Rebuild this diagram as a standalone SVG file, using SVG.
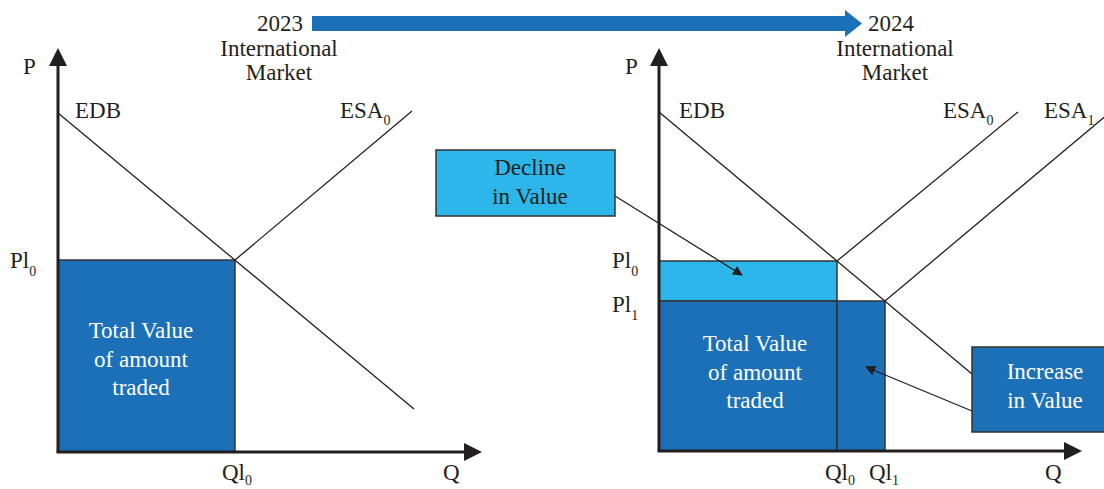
<svg xmlns="http://www.w3.org/2000/svg" width="1104" height="489" viewBox="0 0 1104 489">
<defs>
<style>
text{font-family:'Liberation Serif','DejaVu Serif',serif;font-size:23px;fill:#231f20}
.sub{font-size:14px}
.w{fill:#ffffff}
.c{text-anchor:middle}
.ln{stroke:#231f20;stroke-width:1.3;fill:none}
.ax{stroke:#231f20;stroke-width:3;fill:none}
.dk{fill:#1b70b8;stroke:#333;stroke-width:1.5}
.lt{fill:#2cb6ea;stroke:#333;stroke-width:1.5}
</style>
<marker id="ah" markerWidth="10" markerHeight="10" refX="9" refY="5" orient="auto" markerUnits="userSpaceOnUse">
<path d="M0,0 L10,5 L0,10 Z" fill="#231f20"/>
</marker>
</defs>
<rect width="1104" height="489" fill="#ffffff"/>

<g id="timeline">
<polygon points="312,16 845,16 845,10 862,23.5 845,37 845,31 312,31" fill="#1b70b8"/>
<text x="303" y="31" text-anchor="end">2023</text>
<text x="279" y="56" class="c">International</text>
<text x="279" y="80" class="c">Market</text>
<text x="868" y="31">2024</text>
<text x="895" y="56" class="c">International</text>
<text x="895" y="80" class="c">Market</text>
</g>

<g id="left-chart">
<rect id="left-value" class="dk" x="58" y="260" width="177" height="192"/>
<text x="141" y="338" class="c w">Total Value</text>
<text x="141" y="367" class="c w">of amount</text>
<text x="141" y="395" class="c w">traded</text>
<line class="ln" x1="58" y1="113" x2="414" y2="409"/>
<line class="ln" x1="235" y1="260" x2="412" y2="111"/>
<line class="ax" x1="58" y1="452" x2="58" y2="60"/>
<polygon points="58,48 49,66 67,66" fill="#231f20"/>
<line class="ax" x1="56.5" y1="452" x2="468" y2="452"/>
<polygon points="482,452 464,443 464,461" fill="#231f20"/>
<text x="23" y="74">P</text>
<text x="75" y="118">EDB</text>
<text x="340" y="118">ESA<tspan class="sub" dy="7">0</tspan></text>
<text x="10" y="268">Pl<tspan class="sub" dy="8">0</tspan></text>
<text x="222" y="480">Ql<tspan class="sub" dy="5">0</tspan></text>
<text x="443" y="480">Q</text>
</g>

<g id="right-chart">
<rect id="decline-area" class="lt" x="659" y="261" width="178" height="40"/>
<rect id="total-area" class="dk" x="659" y="301" width="178" height="150"/>
<rect id="increase-area" class="dk" x="837" y="301" width="48" height="150"/>
<text x="755" y="351" class="c w">Total Value</text>
<text x="755" y="380" class="c w">of amount</text>
<text x="755" y="408" class="c w">traded</text>
<line class="ln" x1="659" y1="112" x2="972" y2="374"/>
<line class="ln" x1="837" y1="261" x2="1018" y2="112"/>
<line class="ln" x1="885" y1="301" x2="1108" y2="114"/>
<line class="ax" x1="659" y1="451" x2="659" y2="60"/>
<polygon points="659,48 650,66 668,66" fill="#231f20"/>
<line class="ax" x1="657.5" y1="451" x2="1068" y2="451"/>
<polygon points="1082,451 1064,442 1064,460" fill="#231f20"/>
<text x="625" y="74">P</text>
<text x="679" y="118">EDB</text>
<text x="943" y="118">ESA<tspan class="sub" dy="7">0</tspan></text>
<text x="1044" y="118">ESA<tspan class="sub" dy="7">1</tspan></text>
<text x="612" y="268">Pl<tspan class="sub" dy="8">0</tspan></text>
<text x="612" y="312">Pl<tspan class="sub" dy="8">1</tspan></text>
<text x="825" y="480">Ql<tspan class="sub" dy="5">0</tspan></text>
<text x="869" y="480">Ql<tspan class="sub" dy="5">1</tspan></text>
<text x="1045" y="480">Q</text>
</g>

<g id="decline-box">
<rect class="lt" x="436" y="150" width="179" height="66"/>
<text x="530" y="175" class="c">Decline</text>
<text x="530" y="204" class="c">in Value</text>
</g>

<g id="increase-box">
<rect class="dk" x="972" y="347" width="134" height="85"/>
<text x="1045" y="379" class="c w">Increase</text>
<text x="1045" y="408" class="c w">in Value</text>
</g>

<g id="connectors">
<line class="ln" x1="615" y1="196" x2="742" y2="275" marker-end="url(#ah)"/>
<line class="ln" x1="972" y1="411" x2="866" y2="367" marker-end="url(#ah)"/>
</g>
</svg>
